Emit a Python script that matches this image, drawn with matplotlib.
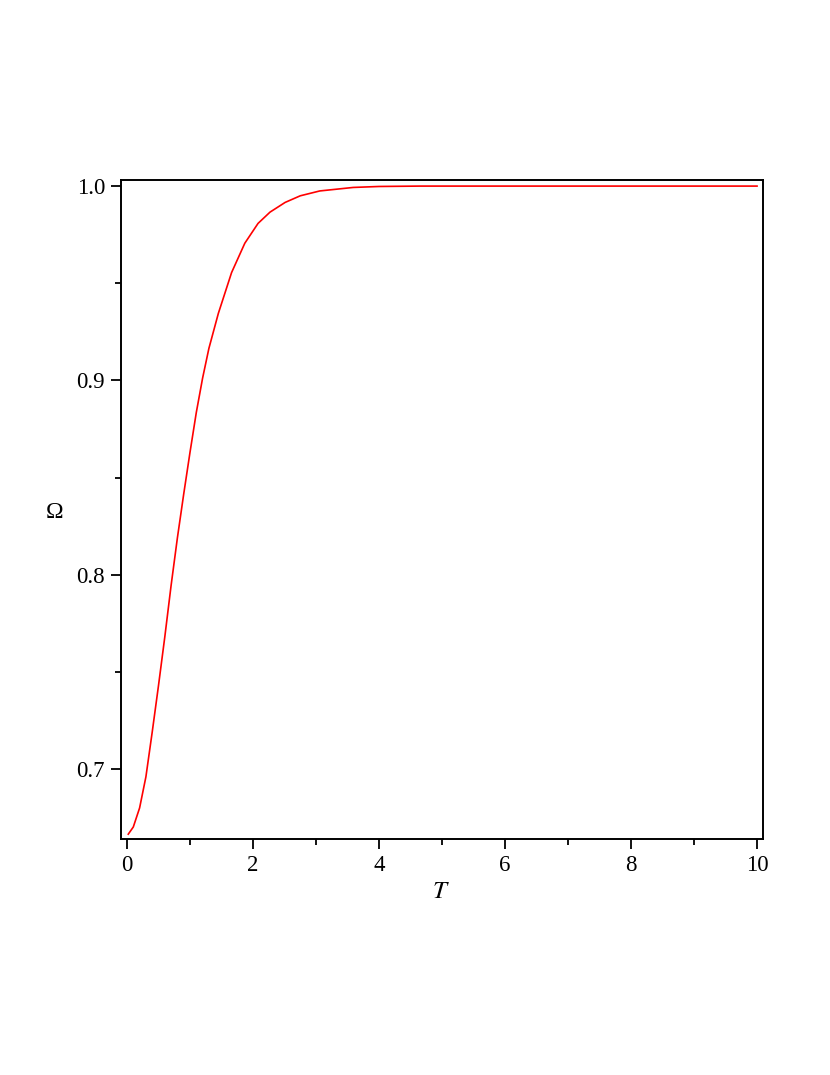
import matplotlib
matplotlib.use("Agg")
import matplotlib.pyplot as plt
from matplotlib.ticker import MultipleLocator

# === Daten ===
T = [0.02, 0.10, 0.20, 0.30, 0.40, 0.50, 0.60, 0.70, 0.80, 0.90, 1.00,
     1.10, 1.20, 1.30, 1.45, 1.66, 1.87, 2.08, 2.27, 2.51, 2.75, 3.06,
     3.59, 4.00, 4.65, 6.0, 8.0, 10.0]
omega = [0.6665, 0.6702, 0.6800, 0.6960, 0.7190, 0.7430, 0.7680, 0.7945,
         0.8190, 0.8415, 0.8630, 0.8835, 0.9012, 0.9165, 0.9345, 0.9555,
         0.9706, 0.9808, 0.9866, 0.9916, 0.9950, 0.9975, 0.9993, 0.9998,
         1.0000, 1.0000, 1.0000, 1.0000]

x_ticks = [0, 2, 4, 6, 8, 10]
y_ticks = [0.7, 0.8, 0.9, 1.0]

serif = ["Liberation Serif", "DejaVu Serif"]
plt.rcParams["mathtext.fontset"] = "stix"

fig = plt.figure(figsize=(8.3, 10.75), dpi=100)
ax = fig.add_axes([0.1458, 0.2195, 0.7735, 0.613])

ax.plot(T, omega, color="red", linewidth=1.2)

ax.set_xlim(-0.095, 10.095)
ax.set_ylim(0.664, 1.0031)
ax.set_xticks(x_ticks)
ax.set_yticks(y_ticks)
ax.set_xticklabels([str(v) for v in x_ticks])
ax.set_yticklabels([f"{v:.1f}" for v in y_ticks])
ax.xaxis.set_minor_locator(MultipleLocator(1))
ax.yaxis.set_minor_locator(MultipleLocator(0.05))

for s in ax.spines.values():
    s.set_linewidth(1.4)

ax.tick_params(which="major", direction="out", length=7.5, width=1.3,
               labelsize=16.5, pad=4)
ax.tick_params(which="minor", direction="out", length=4.3, width=1.3)
for lab in ax.get_xticklabels() + ax.get_yticklabels():
    lab.set_fontfamily(serif)

ax.set_xlabel("$T$", fontsize=18)
ax.xaxis.set_label_coords(0.498, -0.079)
ax.xaxis.label.set_va("center")

ax.set_ylabel("Ω", fontsize=17, rotation=0, family=serif)
ax.yaxis.set_label_coords(-0.104, 0.495)
ax.yaxis.label.set_va("center")
ax.yaxis.label.set_ha("center")

fig.savefig("out.png", dpi=100)
